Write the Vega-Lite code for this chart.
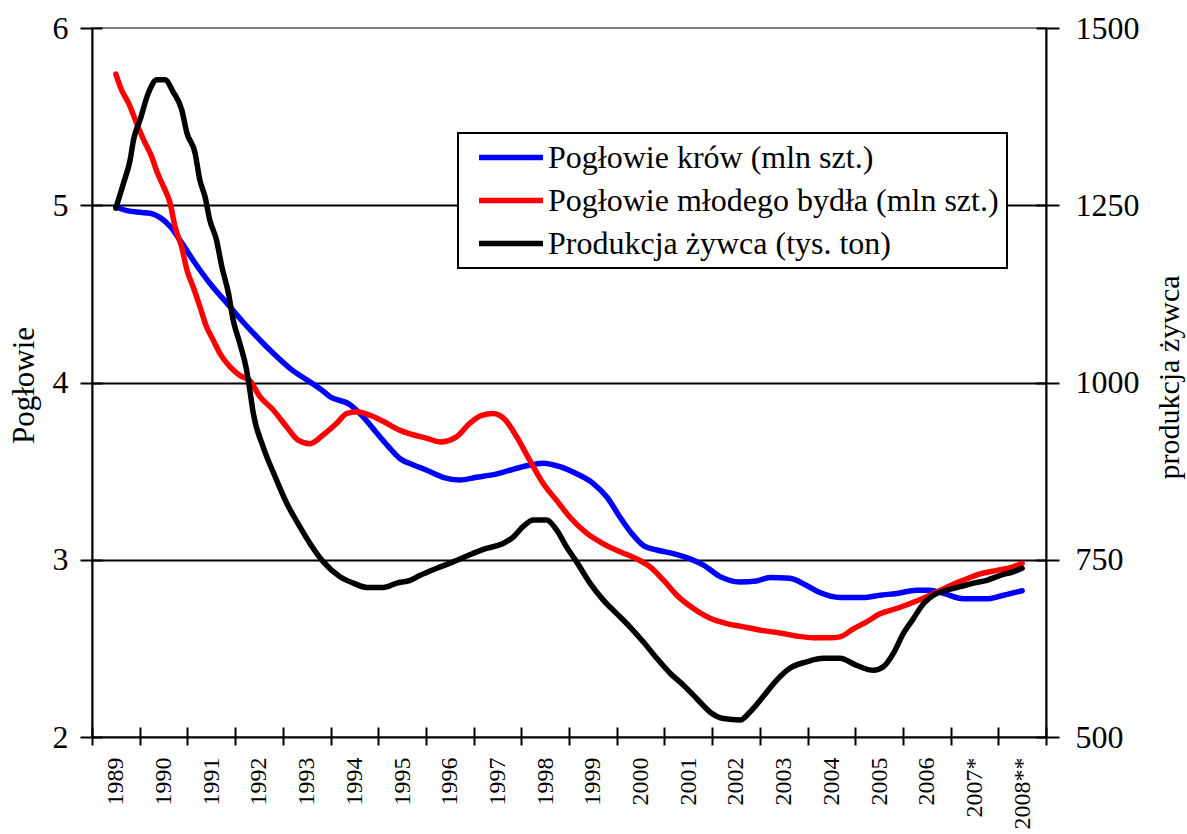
{
"$schema": "https://vega.github.io/schema/vega-lite/v6.json",
"autosize": {"type": "none"},
"padding": {"left": 92, "top": 28, "right": 141, "bottom": 97},
"width": 954,
"height": 709,
"background": "white",
"config": {
  "font": "Liberation Serif",
  "view": {"stroke": "#808080", "strokeWidth": 2},
  "axis": {"labelFont": "Liberation Serif", "titleFont": "Liberation Serif", "labelColor": "black", "titleColor": "black", "domainColor": "black", "tickColor": "black", "domainWidth": 2, "tickWidth": 2, "titleFontWeight": "normal", "grid": false},
  "legend": {"labelFont": "Liberation Serif", "strokeWidth": 2}
},
"data": {"values": [
{"s":"krowy","t":1989.00,"v":4.99},{"s":"krowy","t":1989.23,"v":4.97},{"s":"krowy","t":1989.51,"v":4.96},{"s":"krowy","t":1989.72,"v":4.955},{"s":"krowy","t":1989.93,"v":4.93},{"s":"krowy","t":1990.14,"v":4.88},{"s":"krowy","t":1990.34,"v":4.805},{"s":"krowy","t":1990.62,"v":4.69},{"s":"krowy","t":1990.97,"v":4.56},{"s":"krowy","t":1991.32,"v":4.45},{"s":"krowy","t":1991.67,"v":4.34},{"s":"krowy","t":1992.02,"v":4.24},{"s":"krowy","t":1992.30,"v":4.165},{"s":"krowy","t":1992.65,"v":4.08},{"s":"krowy","t":1993.00,"v":4.015},{"s":"krowy","t":1993.28,"v":3.965},{"s":"krowy","t":1993.49,"v":3.92},{"s":"krowy","t":1993.91,"v":3.875},{"s":"krowy","t":1994.19,"v":3.805},{"s":"krowy","t":1994.47,"v":3.715},{"s":"krowy","t":1994.71,"v":3.64},{"s":"krowy","t":1994.96,"v":3.57},{"s":"krowy","t":1995.24,"v":3.535},{"s":"krowy","t":1995.52,"v":3.505},{"s":"krowy","t":1995.86,"v":3.465},{"s":"krowy","t":1996.21,"v":3.45},{"s":"krowy","t":1996.56,"v":3.465},{"s":"krowy","t":1996.91,"v":3.48},{"s":"krowy","t":1997.26,"v":3.505},{"s":"krowy","t":1997.61,"v":3.53},{"s":"krowy","t":1997.96,"v":3.545},{"s":"krowy","t":1998.31,"v":3.525},{"s":"krowy","t":1998.66,"v":3.485},{"s":"krowy","t":1999.01,"v":3.43},{"s":"krowy","t":1999.29,"v":3.355},{"s":"krowy","t":1999.57,"v":3.24},{"s":"krowy","t":1999.81,"v":3.15},{"s":"krowy","t":2000.06,"v":3.08},{"s":"krowy","t":2000.34,"v":3.055},{"s":"krowy","t":2000.69,"v":3.035},{"s":"krowy","t":2001.04,"v":3.005},{"s":"krowy","t":2001.32,"v":2.97},{"s":"krowy","t":2001.67,"v":2.905},{"s":"krowy","t":2002.08,"v":2.875},{"s":"krowy","t":2002.43,"v":2.88},{"s":"krowy","t":2002.71,"v":2.9},{"s":"krowy","t":2003.13,"v":2.895},{"s":"krowy","t":2003.48,"v":2.855},{"s":"krowy","t":2003.76,"v":2.815},{"s":"krowy","t":2004.18,"v":2.787},{"s":"krowy","t":2004.67,"v":2.787},{"s":"krowy","t":2005.02,"v":2.8},{"s":"krowy","t":2005.37,"v":2.81},{"s":"krowy","t":2005.79,"v":2.828},{"s":"krowy","t":2006.07,"v":2.828},{"s":"krowy","t":2006.35,"v":2.81},{"s":"krowy","t":2006.77,"v":2.78},{"s":"krowy","t":2007.26,"v":2.78},{"s":"krowy","t":2007.61,"v":2.8},{"s":"krowy","t":2008.00,"v":2.825},
{"s":"mlode","t":1989.00,"v":5.74},{"s":"mlode","t":1989.12,"v":5.65},{"s":"mlode","t":1989.26,"v":5.58},{"s":"mlode","t":1989.44,"v":5.46},{"s":"mlode","t":1989.58,"v":5.37},{"s":"mlode","t":1989.75,"v":5.275},{"s":"mlode","t":1989.86,"v":5.19},{"s":"mlode","t":1990.00,"v":5.105},{"s":"mlode","t":1990.14,"v":5.01},{"s":"mlode","t":1990.24,"v":4.88},{"s":"mlode","t":1990.38,"v":4.765},{"s":"mlode","t":1990.49,"v":4.635},{"s":"mlode","t":1990.62,"v":4.54},{"s":"mlode","t":1990.76,"v":4.43},{"s":"mlode","t":1990.90,"v":4.315},{"s":"mlode","t":1991.04,"v":4.24},{"s":"mlode","t":1991.18,"v":4.165},{"s":"mlode","t":1991.39,"v":4.09},{"s":"mlode","t":1991.60,"v":4.04},{"s":"mlode","t":1991.81,"v":4.01},{"s":"mlode","t":1992.02,"v":3.92},{"s":"mlode","t":1992.30,"v":3.845},{"s":"mlode","t":1992.58,"v":3.75},{"s":"mlode","t":1992.82,"v":3.675},{"s":"mlode","t":1993.07,"v":3.655},{"s":"mlode","t":1993.35,"v":3.705},{"s":"mlode","t":1993.63,"v":3.77},{"s":"mlode","t":1993.84,"v":3.825},{"s":"mlode","t":1994.05,"v":3.835},{"s":"mlode","t":1994.33,"v":3.815},{"s":"mlode","t":1994.61,"v":3.78},{"s":"mlode","t":1994.96,"v":3.73},{"s":"mlode","t":1995.17,"v":3.71},{"s":"mlode","t":1995.52,"v":3.685},{"s":"mlode","t":1995.80,"v":3.665},{"s":"mlode","t":1996.15,"v":3.695},{"s":"mlode","t":1996.42,"v":3.77},{"s":"mlode","t":1996.67,"v":3.815},{"s":"mlode","t":1996.91,"v":3.825},{"s":"mlode","t":1997.16,"v":3.79},{"s":"mlode","t":1997.40,"v":3.695},{"s":"mlode","t":1997.68,"v":3.56},{"s":"mlode","t":1997.96,"v":3.43},{"s":"mlode","t":1998.24,"v":3.335},{"s":"mlode","t":1998.52,"v":3.24},{"s":"mlode","t":1998.87,"v":3.15},{"s":"mlode","t":1999.22,"v":3.09},{"s":"mlode","t":1999.57,"v":3.045},{"s":"mlode","t":1999.92,"v":3.005},{"s":"mlode","t":2000.20,"v":2.96},{"s":"mlode","t":2000.48,"v":2.885},{"s":"mlode","t":2000.76,"v":2.8},{"s":"mlode","t":2001.11,"v":2.725},{"s":"mlode","t":2001.46,"v":2.67},{"s":"mlode","t":2001.81,"v":2.64},{"s":"mlode","t":2002.09,"v":2.625},{"s":"mlode","t":2002.23,"v":2.618},{"s":"mlode","t":2002.57,"v":2.6},{"s":"mlode","t":2002.92,"v":2.587},{"s":"mlode","t":2003.27,"v":2.57},{"s":"mlode","t":2003.62,"v":2.56},{"s":"mlode","t":2003.97,"v":2.56},{"s":"mlode","t":2004.18,"v":2.565},{"s":"mlode","t":2004.46,"v":2.61},{"s":"mlode","t":2004.74,"v":2.65},{"s":"mlode","t":2005.02,"v":2.695},{"s":"mlode","t":2005.37,"v":2.725},{"s":"mlode","t":2005.72,"v":2.76},{"s":"mlode","t":2006.07,"v":2.8},{"s":"mlode","t":2006.42,"v":2.845},{"s":"mlode","t":2006.77,"v":2.885},{"s":"mlode","t":2007.12,"v":2.92},{"s":"mlode","t":2007.47,"v":2.94},{"s":"mlode","t":2007.81,"v":2.96},{"s":"mlode","t":2008.00,"v":2.98},
{"s":"zywiec","t":1989.00,"v":1246},{"s":"zywiec","t":1989.16,"v":1281},{"s":"zywiec","t":1989.30,"v":1314},{"s":"zywiec","t":1989.37,"v":1342},{"s":"zywiec","t":1989.51,"v":1371},{"s":"zywiec","t":1989.68,"v":1408},{"s":"zywiec","t":1989.86,"v":1427},{"s":"zywiec","t":1990.03,"v":1427},{"s":"zywiec","t":1990.20,"v":1410},{"s":"zywiec","t":1990.38,"v":1385},{"s":"zywiec","t":1990.49,"v":1352},{"s":"zywiec","t":1990.66,"v":1324},{"s":"zywiec","t":1990.76,"v":1286},{"s":"zywiec","t":1990.87,"v":1262},{"s":"zywiec","t":1990.97,"v":1229},{"s":"zywiec","t":1991.11,"v":1201},{"s":"zywiec","t":1991.22,"v":1164},{"s":"zywiec","t":1991.36,"v":1126},{"s":"zywiec","t":1991.46,"v":1088},{"s":"zywiec","t":1991.60,"v":1055},{"s":"zywiec","t":1991.74,"v":1018},{"s":"zywiec","t":1991.81,"v":989},{"s":"zywiec","t":1991.88,"v":957},{"s":"zywiec","t":1992.09,"v":909},{"s":"zywiec","t":1992.34,"v":867},{"s":"zywiec","t":1992.58,"v":830},{"s":"zywiec","t":1992.82,"v":801},{"s":"zywiec","t":1993.07,"v":773},{"s":"zywiec","t":1993.35,"v":747},{"s":"zywiec","t":1993.70,"v":726},{"s":"zywiec","t":1993.98,"v":717},{"s":"zywiec","t":1994.26,"v":711},{"s":"zywiec","t":1994.61,"v":711},{"s":"zywiec","t":1994.89,"v":717},{"s":"zywiec","t":1995.17,"v":721},{"s":"zywiec","t":1995.38,"v":728},{"s":"zywiec","t":1995.73,"v":738},{"s":"zywiec","t":1996.07,"v":747},{"s":"zywiec","t":1996.42,"v":757},{"s":"zywiec","t":1996.77,"v":766},{"s":"zywiec","t":1997.12,"v":773},{"s":"zywiec","t":1997.33,"v":782},{"s":"zywiec","t":1997.54,"v":797},{"s":"zywiec","t":1997.75,"v":806},{"s":"zywiec","t":1998.03,"v":806},{"s":"zywiec","t":1998.24,"v":792},{"s":"zywiec","t":1998.45,"v":768},{"s":"zywiec","t":1998.66,"v":747},{"s":"zywiec","t":1998.94,"v":717},{"s":"zywiec","t":1999.22,"v":693},{"s":"zywiec","t":1999.50,"v":674},{"s":"zywiec","t":1999.78,"v":655},{"s":"zywiec","t":2000.06,"v":634},{"s":"zywiec","t":2000.34,"v":611},{"s":"zywiec","t":2000.62,"v":590},{"s":"zywiec","t":2000.90,"v":573},{"s":"zywiec","t":2001.18,"v":554},{"s":"zywiec","t":2001.46,"v":535},{"s":"zywiec","t":2001.74,"v":526},{"s":"zywiec","t":2002.09,"v":524},{"s":"zywiec","t":2002.29,"v":535},{"s":"zywiec","t":2002.57,"v":557},{"s":"zywiec","t":2002.85,"v":580},{"s":"zywiec","t":2003.13,"v":597},{"s":"zywiec","t":2003.48,"v":606},{"s":"zywiec","t":2003.83,"v":611},{"s":"zywiec","t":2004.18,"v":611},{"s":"zywiec","t":2004.53,"v":601},{"s":"zywiec","t":2004.88,"v":594},{"s":"zywiec","t":2005.09,"v":599},{"s":"zywiec","t":2005.30,"v":618},{"s":"zywiec","t":2005.51,"v":646},{"s":"zywiec","t":2005.72,"v":667},{"s":"zywiec","t":2005.93,"v":688},{"s":"zywiec","t":2006.14,"v":700},{"s":"zywiec","t":2006.42,"v":707},{"s":"zywiec","t":2006.70,"v":712},{"s":"zywiec","t":2006.98,"v":717},{"s":"zywiec","t":2007.26,"v":721},{"s":"zywiec","t":2007.54,"v":728},{"s":"zywiec","t":2007.81,"v":733},{"s":"zywiec","t":2008.00,"v":738}
]},
"layer": [
{
  "transform": [{"filter": "datum.s == 'krowy'"}],
  "mark": {"type": "line", "opacity": 0},
  "encoding": {
    "x": {"field": "t", "type": "quantitative", "scale": {"domain": [1988.5, 2008.5], "nice": false, "zero": false}, "axis": null},
    "y": {"field": "v", "type": "quantitative", "scale": {"domain": [2, 6], "nice": false, "zero": false},
      "axis": {"orient": "left", "values": [3, 4, 5], "grid": true, "gridColor": "black", "gridWidth": 2, "gridOpacity": 1, "ticks": false, "labels": false, "domain": false, "title": null}}
  }
},
{
  "transform": [{"filter": "datum.s == 'krowy'"}],
  "mark": {"type": "line", "opacity": 0},
  "encoding": {
    "x": {"field": "t", "type": "quantitative", "scale": {"domain": [1988.5, 2008.5], "nice": false, "zero": false},
      "axis": {"orient": "bottom", "values": [1988.5,1989.5,1990.5,1991.5,1992.5,1993.5,1994.5,1995.5,1996.5,1997.5,1998.5,1999.5,2000.5,2001.5,2002.5,2003.5,2004.5,2005.5,2006.5,2007.5,2008.5], "offset": -10, "tickSize": 18, "ticks": true, "labels": false, "domain": false, "title": null}},
    "y": {"field": "v", "type": "quantitative", "scale": {"domain": [2, 6], "nice": false, "zero": false},
      "axis": {"orient": "left", "values": [2, 3, 4, 5, 6], "offset": -10, "tickSize": 22, "ticks": true, "labels": false, "domain": false, "title": null}}
  }
},
{
  "transform": [{"filter": "datum.s == 'zywiec'"}],
  "mark": {"type": "line", "opacity": 0},
  "encoding": {
    "x": {"field": "t", "type": "quantitative", "scale": {"domain": [1988.5, 2008.5], "nice": false, "zero": false}, "axis": null},
    "y": {"field": "v", "type": "quantitative", "scale": {"domain": [500, 1500], "nice": false, "zero": false},
      "axis": {"orient": "right", "values": [500, 750, 1000, 1250, 1500], "offset": -10, "tickSize": 23, "ticks": true, "labels": false, "domain": false, "title": null}}
  }
},
{
  "transform": [{"filter": "datum.s != 'zywiec'"}],
  "mark": {"type": "line", "strokeWidth": 5.5, "interpolate": "monotone", "strokeCap": "round", "strokeJoin": "round"},
  "encoding": {
    "x": {"field": "t", "type": "quantitative", "scale": {"domain": [1988.5, 2008.5], "nice": false, "zero": false},
      "axis": {"orient": "bottom", "values": [1989,1990,1991,1992,1993,1994,1995,1996,1997,1998,1999,2000,2001,2002,2003,2004,2005,2006,2007,2008], "format": "d", "labelExpr": "datum.value == 2007 ? '2007*' : datum.value == 2008 ? '2008**' : datum.label", "labelFont": "Liberation Serif", "labelAngle": 270, "labelFontSize": 24, "labelPadding": 20, "ticks": false, "tickSize": 0, "domain": true, "labelFlush": false, "labelOverlap": false, "title": null}},
    "y": {"field": "v", "type": "quantitative", "scale": {"domain": [2, 6], "nice": false, "zero": false},
      "axis": {"orient": "left", "values": [2, 3, 4, 5, 6], "labelFont": "Liberation Serif", "labelFontSize": 32, "labelPadding": 24, "ticks": false, "tickSize": 0, "domain": true, "labelFlush": false,
        "title": "Pogłowie", "titleFont": "Liberation Serif", "titleFontSize": 31, "titleAngle": 270, "titleX": -68, "titleY": 357, "titleAlign": "center", "titleBaseline": "middle"}},
    "color": {"field": "s", "type": "nominal",
      "scale": {"domain": ["krowy", "mlode", "zywiec"], "range": ["#0000ff", "#ff0000", "#000000"]},
      "legend": {"orient": "none", "legendX": 366, "legendY": 105, "direction": "vertical", "title": null,
        "symbolType": "stroke", "symbolSize": 4096, "symbolStrokeWidth": 5.5, "labelFont": "Liberation Serif", "labelFontSize": 32, "labelLimit": 0, "labelColor": "black",
        "padding": 8, "rowPadding": 10, "clipHeight": 33, "symbolOffset": 10, "labelOffset": 2,
        "strokeColor": "black", "fillColor": "white",
        "labelExpr": "datum.value == 'krowy' ? 'Pogłowie krów (mln szt.)' : datum.value == 'mlode' ? 'Pogłowie młodego bydła (mln szt.)' : 'Produkcja żywca (tys. ton)'"}}
  }
},
{
  "transform": [{"filter": "datum.s == 'zywiec'"}],
  "mark": {"type": "line", "strokeWidth": 5.5, "interpolate": "monotone", "strokeCap": "round", "strokeJoin": "round"},
  "encoding": {
    "x": {"field": "t", "type": "quantitative", "scale": {"domain": [1988.5, 2008.5], "nice": false, "zero": false}, "axis": null},
    "y": {"field": "v", "type": "quantitative", "scale": {"domain": [500, 1500], "nice": false, "zero": false},
      "axis": {"orient": "right", "values": [500, 750, 1000, 1250, 1500], "format": "d", "labelFont": "Liberation Serif", "labelFontSize": 32, "labelPadding": 29, "ticks": false, "tickSize": 0, "domain": true, "labelFlush": false,
        "title": "produkcja żywca", "titleFont": "Liberation Serif", "titleFontSize": 30, "titleAngle": 270, "titleX": 123, "titleY": 349, "titleAlign": "center", "titleBaseline": "middle"}},
    "color": {"field": "s", "type": "nominal",
      "scale": {"domain": ["krowy", "mlode", "zywiec"], "range": ["#0000ff", "#ff0000", "#000000"]}}
  }
}
],
"resolve": {"scale": {"y": "independent"}, "axis": {"x": "independent", "y": "independent"}}
}
